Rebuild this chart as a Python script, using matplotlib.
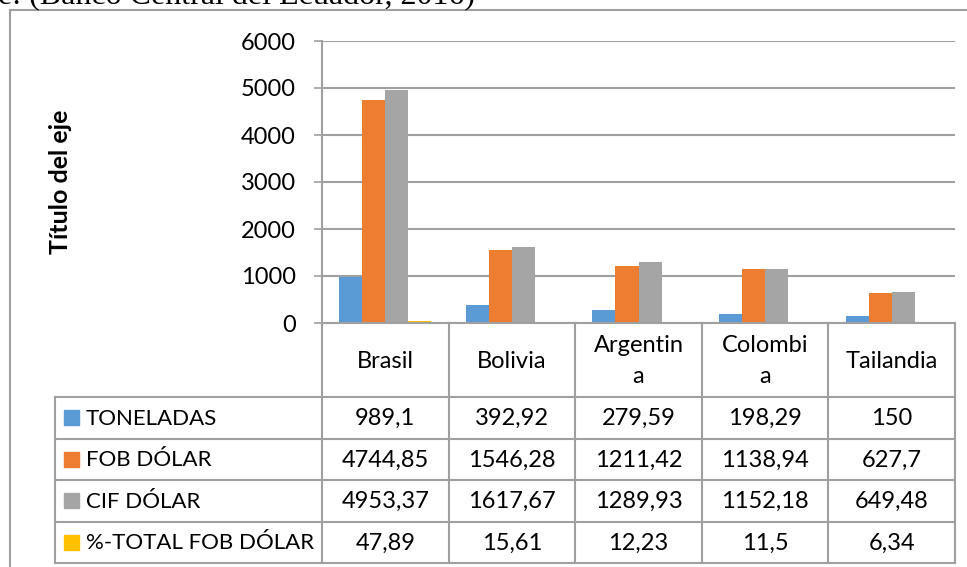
import matplotlib
matplotlib.use("Agg")
import matplotlib.pyplot as plt
from matplotlib.patches import Rectangle

# datos (Banco Central del Ecuador, 2016)
paises = ["Brasil", "Bolivia", "Argentina", "Colombia", "Tailandia"]
etiquetas = ["Brasil", "Bolivia", "Argentin\na", "Colombi\na", "Tailandia"]
series = ["TONELADAS", "FOB DÓLAR", "CIF DÓLAR", "%-TOTAL FOB DÓLAR"]
toneladas = [989.1, 392.92, 279.59, 198.29, 150]
fob = [4744.85, 1546.28, 1211.42, 1138.94, 627.7]
cif = [4953.37, 1617.67, 1289.93, 1152.18, 649.48]
pct_fob = [47.89, 15.61, 12.23, 11.5, 6.34]

valores = [toneladas, fob, cif, pct_fob]
colores = ["#5B9BD5", "#ED7D31", "#A5A5A5", "#FFC000"]
gris = "#A0A0A0"
fs = 17

plt.rcParams["font.family"] = ["Lato", "DejaVu Sans"]
W, H = 967, 567
fig = plt.figure(figsize=(W / 100, H / 100), dpi=100)

# zona del grafico en pixeles
x0, x1, ytop, ybot = 322, 955, 41, 323
ax = fig.add_axes([x0 / W, 1 - ybot / H, (x1 - x0) / W, (ybot - ytop) / H])

n = len(paises)
ancho = 0.182
for k, (vals, c) in enumerate(zip(valores, colores)):
    pos = [i + (k - 1.5) * ancho for i in range(n)]
    ax.bar(pos, vals, width=ancho, color=c, zorder=3)

ax.set_xlim(-0.5, n - 0.5)
ax.set_ylim(0, 6000)
ax.set_yticks(range(0, 6001, 1000))
ax.set_xticks([])
ax.tick_params(axis="y", labelsize=fs, colors=gris, labelcolor="black",
               length=6, width=1.2, pad=13)
ax.grid(axis="y", color=gris, linewidth=1.5, zorder=0)
for s in ["top", "right", "bottom"]:
    ax.spines[s].set_visible(False)
ax.spines["left"].set_color(gris)
ax.spines["left"].set_linewidth(1.5)

# capa en pixeles para la tabla de datos y el marco
ov = fig.add_axes([0, 0, 1, 1], zorder=5)
ov.set_xlim(0, W)
ov.set_ylim(H, 0)
ov.axis("off")
ov.patch.set_alpha(0)

# marco exterior
ov.plot([10, 10], [H, 10], color=gris, lw=1.5)
ov.plot([10, W], [10, 10], color=gris, lw=1.5)

# texto recortado arriba
ov.text(-2, 4, "e: (Banco Central del Ecuador, 2016)", family="Liberation Serif",
        fontsize=23, va="baseline", ha="left")

# titulo del eje
ov.text(61, (ytop + ybot) / 2, "Título del eje", rotation=90, fontsize=18,
        fontweight="bold", ha="center", va="center")

# tabla
xl = 55
cw = (x1 - x0) / n
cols = [x0 + i * cw for i in range(n + 1)]
yh = 397
rh = (563 - yh) / 4
rows = [yh + j * rh for j in range(5)]
lw = 1.5
ov.plot([x0, x1], [ybot, ybot], color=gris, lw=lw)
for cx in cols:
    ov.plot([cx, cx], [ybot, rows[-1]], color=gris, lw=lw)
ov.plot([xl, xl], [yh, rows[-1]], color=gris, lw=lw)
for ry in rows:
    ov.plot([xl, x1], [ry, ry], color=gris, lw=lw)

for i, lab in enumerate(etiquetas):
    ov.text(cols[i] + cw / 2, (ybot + yh) / 2 + 1, lab, fontsize=fs,
            ha="center", va="center", linespacing=1.55)

for j, (nombre, vals, c) in enumerate(zip(series, valores, colores)):
    yc = rows[j] + rh / 2
    ov.add_patch(Rectangle((64, yc - 7.5), 15, 15, color=c))
    ov.text(86, yc + 1, nombre, fontsize=16, ha="left", va="center")
    for i, v in enumerate(vals):
        ov.text(cols[i] + cw / 2, yc + 1, f"{v:g}".replace(".", ","),
                fontsize=fs, ha="center", va="center")

fig.savefig("out.png", dpi=100)
